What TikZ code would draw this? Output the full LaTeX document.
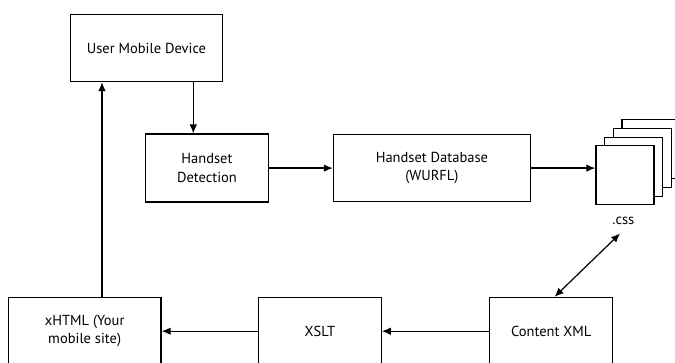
\documentclass[tikz,border=0pt]{standalone}
\usepackage{fontspec}
\setmainfont{PT Sans}
\usepackage{tikz}
\usetikzlibrary{arrows.meta,positioning}

\begin{document}
\begin{tikzpicture}[
    font=\fontsize{14.5}{18.3}\selectfont,
    stage/.style={draw, line width=1.2pt, fill=white, align=center, inner sep=0pt, minimum height=67.5pt},
    sheet/.style={draw, line width=1.2pt, fill=white, inner sep=0pt, minimum width=58pt, minimum height=59pt},
    arrow/.style={-{Latex[length=9pt,width=7.5pt]}, line width=1.2pt},
    dblarrow/.style={{Latex[length=9pt,width=7.5pt]}-{Latex[length=9pt,width=7.5pt]}, line width=1.2pt}
]
\clip (0pt,0pt) rectangle (675pt,-363pt);
\fill[white] (0pt,0pt) rectangle (675pt,-363pt);

% top row
\node[stage, minimum width=152pt, minimum height=67pt] (user) at (146.5pt,-48pt) {User Mobile Device};
\node[stage, minimum width=123pt, minimum height=68pt, below right=51.4pt and 75pt of user.south west] (detect) {Handset\\Detection};
\node[stage, minimum width=197pt, right=63.7pt of detect] (db) {Handset Database\\(WURFL)};

% stack of style sheets
\foreach \k in {3,2,1}
  \node[sheet] (sheet\k) at ([shift={(8.7pt*\k,8.7pt*\k)}]624.9pt,-175.4pt) {};
\node[sheet] (css) at (624.9pt,-175.4pt) {};
\node (csslabel) at ([xshift=-1.5pt,yshift=-15pt]css.south) {.css};

% bottom row
\node[stage, minimum width=152.7pt] (xhtml) at (84.7pt,-331.2pt) {xHTML (Your\\mobile site)};
\node[stage, minimum width=122.7pt, right=96.3pt of xhtml] (xslt) {XSLT};
\node[stage, minimum width=123pt, right=107.3pt of xslt] (content) {Content XML};

\draw[arrow] ([xshift=46.8pt]user.south) -- ([xshift=46.8pt]user.south |- detect.north);
\draw[arrow] (detect) -- (db);
\draw[arrow] (db.east) -- (db.east -| css.west);
\draw[dblarrow] ([xshift=3.3pt]content.north) -- ([shift={(-3.3pt,-13pt)}]csslabel.center);
\draw[arrow] (content) -- (xslt);
\draw[arrow] (xslt) -- (xhtml);
\draw[arrow] ([xshift=17.3pt]xhtml.north) -- ([xshift=17.3pt]xhtml.north |- user.south);
\end{tikzpicture}
\end{document}
